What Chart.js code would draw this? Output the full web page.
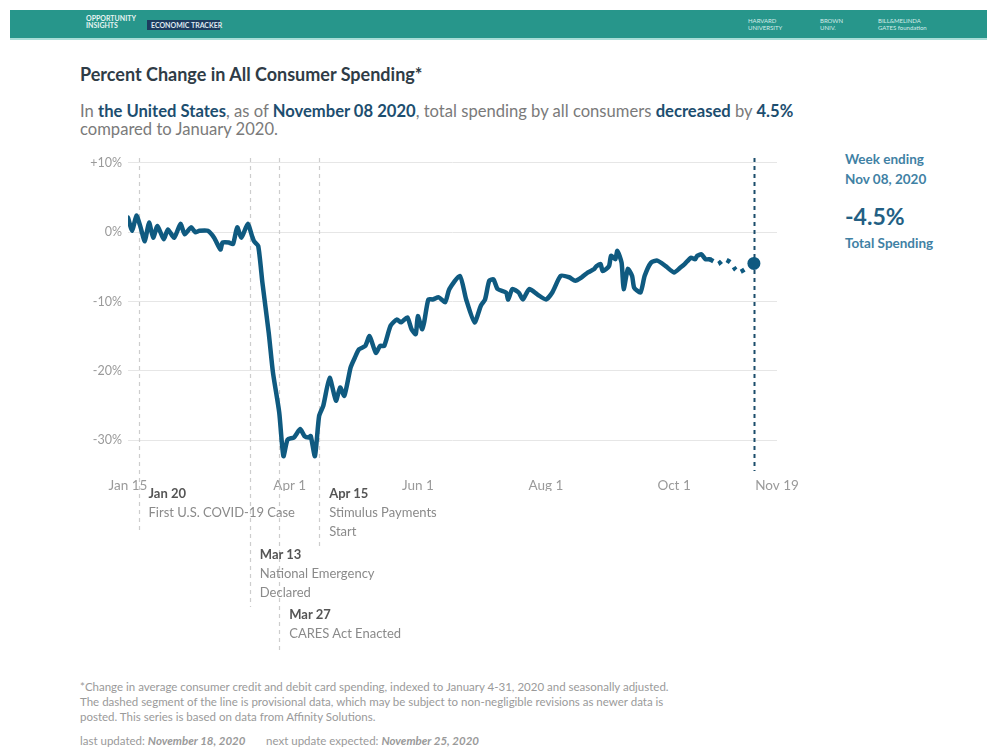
<!DOCTYPE html>
<html><head><meta charset="utf-8">
<script src="https://cdn.jsdelivr.net/npm/chart.js@4.4.1/dist/chart.umd.min.js"></script>
<style>
html,body{margin:0;padding:0;background:#fff;}
body{width:997px;height:749px;position:relative;overflow:hidden;font-family:Lato,"Open Sans",sans-serif;}
.abs{position:absolute;white-space:nowrap;}
#header{position:absolute;left:10px;top:10px;width:977px;height:28px;background:#27968b;}
#headerline{position:absolute;left:10px;top:38px;width:977px;height:2px;background:#a9ddd7;}
#wrap{position:absolute;left:0;top:0;width:997px;height:749px;}
#title{left:80px;top:63px;font-size:18px;font-weight:700;color:#2f3c46;}
.sub{left:80px;font-size:16.6px;color:#7a7a7a;}
.sub b{color:#1d4e6f;}
.evt-t{font-size:13px;font-weight:700;color:#555;line-height:19px;}
.evt-d{font-size:13px;color:#8a8a8a;line-height:19px;}
.side{left:845px;font-size:13.5px;font-weight:700;color:#3f81a4;}
.foot{left:80px;font-size:11.5px;color:#9a9a9a;}
</style></head><body>
<div id="header"></div>
<div id="headerline"></div>
<div class="abs" style="left:86px;top:15px;font-size:7px;font-weight:700;color:#e6f4f2;line-height:7px;">OPPORTUNITY<br>INSIGHTS</div>
<div class="abs" style="left:147px;top:20px;width:73px;height:10px;background:#1d3c5e;"></div>
<div class="abs" style="left:151px;top:21px;font-size:7px;font-weight:700;color:#dfe9f0;">ECONOMIC TRACKER</div>
<div class="abs" style="left:748px;top:17px;font-size:6px;color:#d5ece9;line-height:7px;">HARVARD<br>UNIVERSITY</div>
<div class="abs" style="left:820px;top:17px;font-size:6px;color:#d5ece9;line-height:7px;">BROWN<br>UNIV.</div>
<div class="abs" style="left:878px;top:17px;font-size:6px;color:#d5ece9;line-height:7px;">BILL&amp;MELINDA<br>GATES foundation</div>

<div class="abs" id="title">Percent Change in All Consumer Spending*</div>
<div class="abs sub" style="top:101px;">In <b>the United States</b>, as of <b>November 08 2020</b>, total spending by all consumers <b>decreased</b> by <b>4.5%</b></div>
<div class="abs sub" style="top:119px;">compared to January 2020.</div>

<div class="abs side" style="top:151px;">Week ending</div>
<div class="abs side" style="top:171px;">Nov 08, 2020</div>
<div class="abs" style="left:845px;top:202px;font-size:23px;font-weight:700;color:#235f84;">-4.5%</div>
<div class="abs side" style="top:235px;">Total Spending</div>

<div class="abs foot" style="top:680px;">*Change in average consumer credit and debit card spending, indexed to January 4-31, 2020 and seasonally adjusted.</div>
<div class="abs foot" style="top:695px;">The dashed segment of the line is provisional data, which may be subject to non-negligible revisions as newer data is</div>
<div class="abs foot" style="top:710px;">posted. This series is based on data from Affinity Solutions.</div>
<div class="abs foot" style="top:734px;">last updated: <b><i>November 18, 2020</i></b> &nbsp;&nbsp;&nbsp;&nbsp;&nbsp; next update expected: <b><i>November 25, 2020</i></b></div>

<div id="wrap"><canvas id="c"></canvas></div>
<div id="ann"></div>

<script>
// ---- data ----
const dates = ["2020-01-15","2020-01-17","2020-01-19","2020-01-21","2020-01-23","2020-01-25","2020-01-27","2020-01-29",
"2020-02-01","2020-02-03","2020-02-06","2020-02-09","2020-02-11","2020-02-14","2020-02-16","2020-02-18","2020-02-22",
"2020-02-25","2020-02-28","2020-02-29","2020-03-03","2020-03-05","2020-03-07","2020-03-09","2020-03-12","2020-03-14",
"2020-03-15","2020-03-17","2020-03-19","2020-03-22","2020-03-24","2020-03-27","2020-03-29","2020-03-31","2020-04-03",
"2020-04-06","2020-04-08","2020-04-10","2020-04-11","2020-04-13","2020-04-15","2020-04-17","2020-04-20","2020-04-23",
"2020-04-25","2020-04-27","2020-04-30","2020-05-02","2020-05-04","2020-05-07","2020-05-09","2020-05-12","2020-05-14",
"2020-05-16","2020-05-19","2020-05-22","2020-05-24","2020-05-27","2020-05-29","2020-05-31","2020-06-01","2020-06-03",
"2020-06-04","2020-06-06","2020-06-08","2020-06-11","2020-06-14","2020-06-16","2020-06-21","2020-06-24","2020-06-28",
"2020-07-01","2020-07-03","2020-07-05","2020-07-07","2020-07-09","2020-07-13","2020-07-14","2020-07-16","2020-07-19",
"2020-07-21","2020-07-24","2020-07-28","2020-08-01","2020-08-04","2020-08-08","2020-08-12","2020-08-15","2020-08-18",
"2020-08-21","2020-08-24","2020-08-25","2020-08-27","2020-08-28","2020-08-31","2020-09-01","2020-09-03","2020-09-04",
"2020-09-06","2020-09-07","2020-09-09","2020-09-11","2020-09-12","2020-09-15","2020-09-17","2020-09-20","2020-09-23",
"2020-09-27","2020-10-01","2020-10-04","2020-10-06","2020-10-09","2020-10-11","2020-10-12","2020-10-14","2020-10-16",
"2020-10-18"];
const values = [2.1,0.2,2.4,0.7,-1.3,1.4,-0.8,0.9,
-1.0,0.4,-0.8,1.2,-0.3,0.7,0.0,0.2,0.2,
-0.8,-2.5,-1.5,-1.5,-1.7,0.7,-0.8,1.2,-0.5,
-1.3,-2.0,-7.3,-14.5,-20.2,-26.0,-32.3,-29.9,-29.6,
-28.4,-29.4,-29.6,-29.4,-32.3,-26.5,-25.0,-21.0,-24.3,
-22.4,-23.6,-19.5,-18.1,-16.9,-16.4,-15.0,-17.4,-16.4,
-16.4,-13.5,-12.6,-13.0,-12.3,-14.0,-14.7,-12.1,-14.0,
-13.0,-9.7,-9.7,-9.4,-10.1,-8.2,-6.3,-9.7,-13.0,
-10.6,-9.7,-7.0,-6.8,-8.2,-8.7,-9.7,-8.2,-8.7,
-9.7,-8.2,-9.0,-9.7,-8.7,-6.3,-6.5,-7.0,-6.5,
-5.8,-5.3,-4.9,-4.6,-5.6,-4.9,-3.4,-3.9,-2.7,
-4.4,-8.2,-5.3,-6.3,-8.0,-8.7,-6.3,-4.4,-4.1,
-4.9,-5.8,-5.1,-4.6,-3.7,-3.9,-3.4,-3.2,-3.9,
-3.9];
const provisionalDates = ["2020-10-18","2020-10-21","2020-10-22","2020-10-25","2020-10-28","2020-10-30","2020-11-01","2020-11-08"];
const provisionalValues = [-3.9,-4.4,-4.6,-3.9,-4.4,-5.3,-5.8,-4.5];
const latestDate = "2020-11-08";
const latestValue = -4.5;
const xTickDates = ["2020-01-15","2020-04-01","2020-06-01","2020-08-01","2020-10-01","2020-11-19"];
const xTickLabels = ["Jan 15","Apr 1","Jun 1","Aug 1","Oct 1","Nov 19"];
const yTickValues = [10,0,-10,-20,-30];
const yTickLabels = ["+10%","0%","-10%","-20%","-30%"];
const eventDates = ["2020-01-20","2020-03-13","2020-03-27","2020-04-15"];
const eventTitles = ["Jan 20","Mar 13","Mar 27","Apr 15"];
const eventTexts = [["First U.S. COVID-19 Case"],["National Emergency","Declared"],["CARES Act Enacted"],["Stimulus Payments","Start"]];

// ---- helpers ----
const base = Date.UTC(2020,0,15);
const toDay = s => (Date.parse(s+"T00:00:00Z") - base) / 86400000;
const pts = (ds, vs) => ds.map((d,i)=>({x:toDay(d), y:vs[i]}));

const LINE = '#0f5a80';
// layout of event annotations (line bottom and text top, px)
const eventLayout = [{bottom:533,textTop:484},{bottom:607,textTop:545},{bottom:652,textTop:605},{bottom:546,textTop:484}];

const ann = document.getElementById('ann');
const annDivs = eventDates.map((d,i)=>{
  const el = document.createElement('div');
  el.className='abs';
  el.innerHTML = '<div class="evt-t">'+eventTitles[i]+'</div>' + eventTexts[i].map(t=>'<div class="evt-d">'+t+'</div>').join('');
  ann.appendChild(el);
  return el;
});

const eventPlugin = {
  id:'events',
  beforeDatasetsDraw(chart){
    const {ctx, chartArea, scales:{x}} = chart;
    ctx.save();
    ctx.setLineDash([4,4]);
    ctx.lineWidth = 1.2;
    ctx.strokeStyle = '#cdcdcd';
    eventDates.forEach((d,i)=>{
      const px = Math.round(x.getPixelForValue(toDay(d)))+0.5;
      ctx.beginPath(); ctx.moveTo(px, chartArea.top); ctx.lineTo(px, eventLayout[i].bottom); ctx.stroke();
    });
    const lx = Math.round(x.getPixelForValue(toDay(latestDate)))+0.5;
    ctx.strokeStyle = '#1b4d6b'; ctx.lineWidth = 2; ctx.setLineDash([4,4]);
    ctx.beginPath(); ctx.moveTo(lx, chartArea.top); ctx.lineTo(lx, chartArea.bottom+10); ctx.stroke();
    ctx.restore();
  },
  afterDraw(chart){
    const x = chart.scales.x;
    eventDates.forEach((d,i)=>{
      const px = x.getPixelForValue(toDay(d));
      annDivs[i].style.left = (px+10)+'px';
      annDivs[i].style.top = eventLayout[i].textTop+'px';
    });
  }
};

new Chart(document.getElementById('c'), {
  type:'line',
  data:{datasets:[
    {data:pts(dates,values), borderColor:LINE, borderWidth:4.5, pointRadius:0, tension:0.2, borderJoinStyle:'round', borderCapStyle:'round'},
    {data:pts(provisionalDates,provisionalValues), borderColor:LINE, borderWidth:4.5, borderDash:[4,6], pointRadius:0, tension:0.2},
    {data:[{x:toDay(latestDate), y:latestValue}], showLine:false, pointRadius:6.5, pointBackgroundColor:LINE, pointBorderColor:LINE, pointBorderWidth:0}
  ]},
  options:{
    responsive:true, maintainAspectRatio:false, animation:false,
    layout:{padding:{left:0, top:158, right:220, bottom:258}},
    plugins:{legend:{display:false}, tooltip:{enabled:false}},
    scales:{
      x:{type:'linear', min:toDay("2020-01-15"), max:toDay("2020-11-19"),
        grid:{display:false}, border:{display:false},
        afterBuildTicks:s=>{s.ticks = xTickDates.map(d=>({value:toDay(d)}));},
        afterFit:s=>{s.height=30;},
        ticks:{autoSkip:false, maxRotation:0, padding:9, color:'#9a9a9a', font:{family:'Lato', size:13.5},
          callback:(v,i)=>xTickLabels[i]}},
      y:{min:-33, max:10.7,
        grid:{color:'#e6e6e6', lineWidth:1, drawTicks:false},
        border:{display:false},
        afterBuildTicks:s=>{s.ticks = yTickValues.map(v=>({value:v}));},
        afterFit:s=>{s.width=128;},
        ticks:{padding:6, color:'#9a9a9a', font:{family:'Lato', size:12.5}, callback:(v,i)=>yTickLabels[i]}}
    }
  },
  plugins:[eventPlugin]
});
</script>
</body></html>
